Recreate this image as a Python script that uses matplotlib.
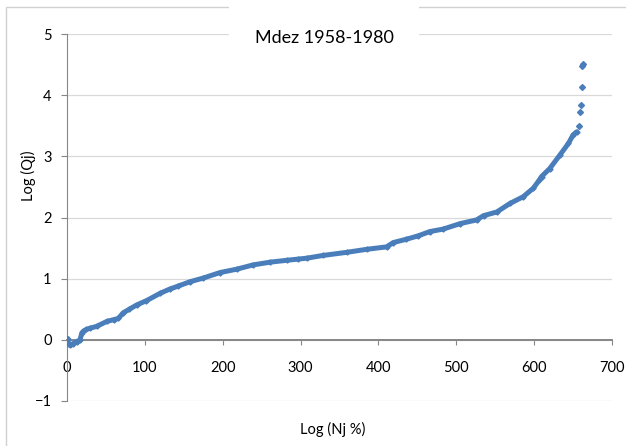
import matplotlib
matplotlib.use('Agg')
import matplotlib.pyplot as plt
from matplotlib.patches import Rectangle

# Main body of the curve
nj = [1, 2, 4, 8, 12.4, 16.7, 19, 21, 25, 29.5, 38, 51, 60, 66, 72, 80, 89.5, 102,
      119.5, 132, 143, 158, 175, 196.5, 218, 239, 261, 282, 297, 308, 329, 359,
      385, 410.5, 419, 436, 451, 466, 483, 505, 526, 535, 552, 569, 586, 599,
      606.5, 609.5, 620, 633, 644, 650, 654.5]
qj = [0.02, -0.07, -0.09, -0.06, -0.03, 0.0, 0.11, 0.14, 0.17, 0.19, 0.22, 0.30, 0.33, 0.35,
      0.44, 0.50, 0.57, 0.64, 0.76, 0.83, 0.88, 0.95, 1.01, 1.10, 1.155, 1.225,
      1.27, 1.30, 1.32, 1.335, 1.38, 1.43, 1.48, 1.52, 1.59, 1.645, 1.70, 1.77,
      1.81, 1.90, 1.96, 2.03, 2.09, 2.23, 2.34, 2.48, 2.61, 2.67, 2.80, 3.02,
      3.21, 3.35, 3.40]
# Isolated top points
tail_nj = [657, 659, 660, 661, 662, 662.5]
tail_qj = [3.50, 3.72, 3.84, 4.14, 4.47, 4.51]

x_ticks = [0, 100, 200, 300, 400, 500, 600, 700]
y_ticks = [-1, 0, 1, 2, 3, 4, 5]
title = "Mdez 1958-1980"
xlabel = "Log (Nj %)"
ylabel = "Log (Qj)"

W, H = 626, 446
plt.rcParams['font.family'] = ['Lato', 'DejaVu Sans']
fig = plt.figure(figsize=(W / 100, H / 100), dpi=100)


def rect(x0, y0, x1, y1):
    return [x0 / W, 1 - y1 / H, (x1 - x0) / W, (y1 - y0) / H]


ax = fig.add_axes(rect(67, 34, 612, 401))
ax.set_xlim(0, 700)
ax.set_ylim(-1, 5)

blue = '#4A7EBB'
ax.plot(nj, qj, color=blue, lw=3.6, marker='D', ms=2.6, mec=blue, mfc=blue,
        solid_capstyle='round', solid_joinstyle='round', zorder=4)
ax.plot(tail_nj, tail_qj, ls='none', marker='D', ms=3.0, color=blue, zorder=4)

ax.set_xticks(x_ticks)
ax.set_yticks(y_ticks)
ax.yaxis.grid(True, color='#D9D9D9', lw=0.9)
ax.set_axisbelow(True)

for s in ['top', 'right']:
    ax.spines[s].set_visible(False)
ax.spines['bottom'].set_position(('data', 0))
ax.spines['bottom'].set_color('#868686')
ax.spines['bottom'].set_linewidth(1.4)
ax.spines['left'].set_color('#868686')
ax.spines['left'].set_linewidth(0.8)

ax.tick_params(axis='x', direction='out', length=3.5, pad=12, color='#868686',
               labelcolor='black', labelsize=10.5)
ax.tick_params(axis='y', direction='out', length=4, pad=7, color='#868686',
               labelcolor='black', labelsize=10.5)

fig.text(324 / W, 1 - 38 / H, title, ha='center', va='center', fontsize=13,
         bbox=dict(boxstyle='square,pad=1.4', fc='white', ec='none'))
fig.text(333 / W, 1 - 429 / H, xlabel, ha='center', va='center', fontsize=10.5)
fig.text(28 / W, 1 - 176 / H, ylabel, ha='center', va='center', fontsize=10.5,
         rotation=90)

fig.patches.append(Rectangle((5.5 / W, -0.1), 1.2, 1 - 7 / H + 0.1,
                             transform=fig.transFigure, fill=False,
                             ec='#D0D0D0', lw=1))

fig.savefig('out.png', dpi=100)
